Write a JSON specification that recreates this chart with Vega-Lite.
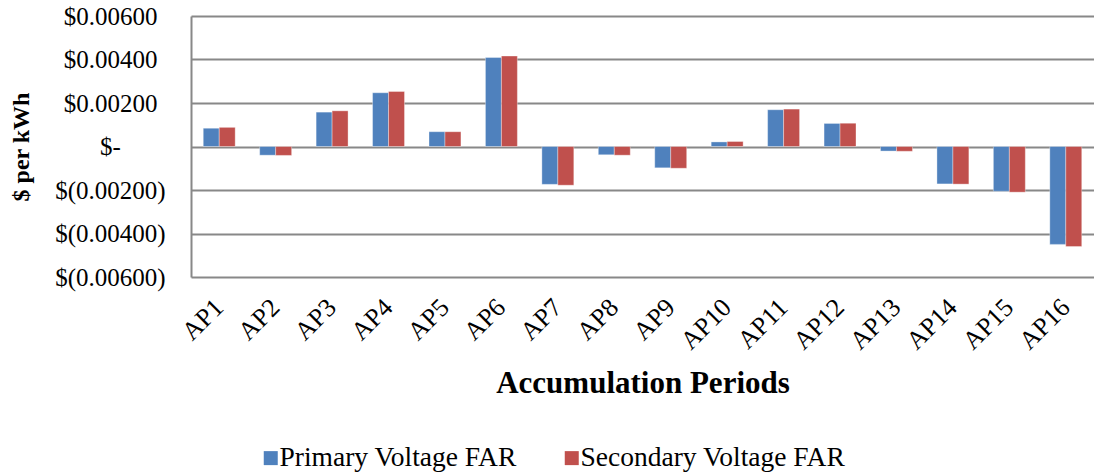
{
  "$schema": "https://vega.github.io/schema/vega-lite/v6.json",
  "width": 903,
  "height": 261,
  "autosize": "none",
  "padding": {"left": 191, "top": 16, "right": 0, "bottom": 196},
  "background": "white",
  "config": {
    "font": "Liberation Serif",
    "view": {"stroke": null},
    "axis": {"labelFont": "Liberation Serif", "titleFont": "Liberation Serif", "labelColor": "#000", "titleColor": "#000"}
  },
  "data": {
    "values": [
      {"period": "AP1", "series": "Primary Voltage FAR", "value": 0.00084},
      {"period": "AP1", "series": "Secondary Voltage FAR", "value": 0.00088},
      {"period": "AP2", "series": "Primary Voltage FAR", "value": -0.00040},
      {"period": "AP2", "series": "Secondary Voltage FAR", "value": -0.00041},
      {"period": "AP3", "series": "Primary Voltage FAR", "value": 0.00158},
      {"period": "AP3", "series": "Secondary Voltage FAR", "value": 0.00164},
      {"period": "AP4", "series": "Primary Voltage FAR", "value": 0.00247},
      {"period": "AP4", "series": "Secondary Voltage FAR", "value": 0.00253},
      {"period": "AP5", "series": "Primary Voltage FAR", "value": 0.00068},
      {"period": "AP5", "series": "Secondary Voltage FAR", "value": 0.00068},
      {"period": "AP6", "series": "Primary Voltage FAR", "value": 0.00409},
      {"period": "AP6", "series": "Secondary Voltage FAR", "value": 0.00416},
      {"period": "AP7", "series": "Primary Voltage FAR", "value": -0.00174},
      {"period": "AP7", "series": "Secondary Voltage FAR", "value": -0.00178},
      {"period": "AP8", "series": "Primary Voltage FAR", "value": -0.00038},
      {"period": "AP8", "series": "Secondary Voltage FAR", "value": -0.00040},
      {"period": "AP9", "series": "Primary Voltage FAR", "value": -0.00098},
      {"period": "AP9", "series": "Secondary Voltage FAR", "value": -0.00100},
      {"period": "AP10", "series": "Primary Voltage FAR", "value": 0.00021},
      {"period": "AP10", "series": "Secondary Voltage FAR", "value": 0.00023},
      {"period": "AP11", "series": "Primary Voltage FAR", "value": 0.00169},
      {"period": "AP11", "series": "Secondary Voltage FAR", "value": 0.00172},
      {"period": "AP12", "series": "Primary Voltage FAR", "value": 0.00106},
      {"period": "AP12", "series": "Secondary Voltage FAR", "value": 0.00107},
      {"period": "AP13", "series": "Primary Voltage FAR", "value": -0.00021},
      {"period": "AP13", "series": "Secondary Voltage FAR", "value": -0.00022},
      {"period": "AP14", "series": "Primary Voltage FAR", "value": -0.00172},
      {"period": "AP14", "series": "Secondary Voltage FAR", "value": -0.00173},
      {"period": "AP15", "series": "Primary Voltage FAR", "value": -0.00206},
      {"period": "AP15", "series": "Secondary Voltage FAR", "value": -0.00210},
      {"period": "AP16", "series": "Primary Voltage FAR", "value": -0.00450},
      {"period": "AP16", "series": "Secondary Voltage FAR", "value": -0.00460}
    ]
  },
  "mark": {"type": "bar", "stroke": "#ffffff", "strokeOpacity": 0.5, "strokeWidth": 0.7},
  "encoding": {
    "x": {
      "field": "period",
      "type": "nominal",
      "sort": null,
      "scale": {"paddingInner": 0.434, "paddingOuter": 0.217},
      "axis": {
        "title": "Accumulation Periods",
        "titleFontSize": 31,
        "titleFontWeight": "bold",
        "titlePadding": 14,
        "labelFontSize": 26,
        "labelAngle": -45,
        "labelAlign": "right",
        "labelBaseline": "middle",
        "labelPadding": 26,
        "ticks": false,
        "domain": false,
        "grid": false
      }
    },
    "xOffset": {"field": "series", "type": "nominal", "scale": {"padding": 0}},
    "y": {
      "field": "value",
      "type": "quantitative",
      "scale": {"domain": [-0.006, 0.006], "nice": false, "zero": false},
      "axis": {
        "title": "$ per kWh",
        "titleFontSize": 24,
        "titleFontWeight": "bold",
        "titlePadding": 21,
        "values": [-0.006, -0.004, -0.002, 0, 0.002, 0.004, 0.006],
        "labelExpr": "datum.value == 0 ? '$-' : (datum.value > 0 ? '$' + format(datum.value, '.5f') : '$(' + format(-datum.value, '.5f') + ')')",
        "labelFontSize": 25,
        "labelAlign": "center",
        "labelBaseline": "middle",
        "labelPadding": 81,
        "ticks": false,
        "domain": true,
        "domainColor": "#888888",
        "domainWidth": 2,
        "grid": true,
        "gridColor": "#888888",
        "gridWidth": 2
      }
    },
    "color": {
      "field": "series",
      "type": "nominal",
      "scale": {"domain": ["Primary Voltage FAR", "Secondary Voltage FAR"], "range": ["#4F81BD", "#C0504D"]},
      "legend": {
        "title": null,
        "orient": "none",
        "legendX": 66,
        "legendY": 428,
        "padding": 0,
        "direction": "horizontal",
        "symbolType": "square",
        "symbolSize": 196,
        "symbolStrokeWidth": 0,
        "labelFontSize": 27.5,
        "labelFont": "Liberation Serif",
        "labelColor": "#000",
        "labelLimit": 500,
        "labelOffset": -5,
        "columnPadding": 41
      }
    }
  }
}
